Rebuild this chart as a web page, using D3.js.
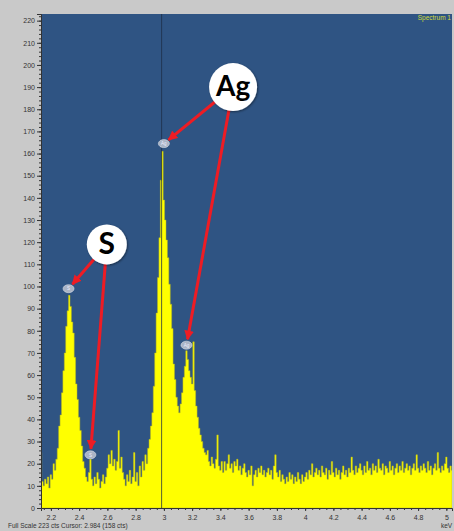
<!DOCTYPE html>
<html><head><meta charset="utf-8">
<script src="https://cdn.jsdelivr.net/npm/d3@7"></script>
<style>
html,body{margin:0;padding:0;background:#c9c9c9;}
svg{display:block;}
</style></head>
<body>
<svg id="chart" width="454" height="531"></svg>
<script>
// ---------- data ----------
const energyStart = 2.13;   // keV of first channel
const energyStep = 0.01;    // keV per channel
const counts = [
25,12,10,13,11,14,9,15,13,20,
17,22,27,37,42,52,62,70,82,89,
96,91,84,79,68,56,49,41,35,28,
21,18,14,12,16,22,13,10,14,11,
16,13,9,12,15,11,14,18,24,20,
26,19,22,17,21,35,18,23,16,13,
10,15,12,17,11,14,25,12,16,10,
19,14,21,17,24,20,27,31,37,43,
55,70,88,104,122,148,161,139,130,121,
113,101,92,81,65,58,50,46,43,47,
52,59,64,71,67,62,59,56,75,53,
46,41,36,33,30,27,25,24,26,21,
19,23,20,18,22,33,19,17,21,16,
21,17,20,24,18,20,16,21,19,22,
17,19,15,18,20,16,14,17,15,19,
10,15,17,14,18,16,19,15,17,14,
16,18,15,17,13,19,24,16,14,17,
12,15,13,11,14,12,16,13,15,11,
14,12,16,13,11,15,12,14,16,13,
17,15,20,14,16,18,15,17,14,19,
16,15,18,13,17,15,21,16,14,18,
15,17,13,16,19,15,17,14,18,16,
23,17,15,19,16,18,20,17,15,19,
16,21,17,18,15,20,17,19,16,22,
18,17,20,15,19,18,16,21,17,19,
15,18,20,16,19,17,21,16,18,20,
17,19,15,18,20,17,24,18,16,19,
17,20,18,16,21,17,19,15,18,20,
17,25,18,16,19,17,20,23,18,16,
19,17
];
const xTickValues = [2.2,2.4,2.6,2.8,3.0,3.2,3.4,3.6,3.8,4.0,4.2,4.4,4.6,4.8,5.0];
const xTickLabels = ["2.2","2.4","2.6","2.8","3","3.2","3.4","3.6","3.8","4","4.2","4.4","4.6","4.8","5"];
const yTickValues = [0,10,20,30,40,50,60,70,80,90,100,110,120,130,140,150,160,170,180,190,200,210,220];
const xDomain = [2.13, 5.04];
const fullScale = 223;
const cursorKeV = 2.984;
// element markers on the peaks: [label, keV, counts]
const markerLabels = ["S","S","Ag","Ag"];
const markerKeV = [2.325, 2.48, 3.0, 3.16];
const markerCounts = [99, 24, 164.5, 73.5];
// callout bubbles: label, centre keV, centre counts
const calloutLabels = ["S","Ag"];
const calloutKeV = [2.596, 3.49];
const calloutCounts = [119, 190];
const footerText = "Full Scale 223 cts Cursor: 2.984  (158 cts)";

// ---------- layout ----------
const L = 41, R = 452, T = 14, B = 508;
const svg = d3.select("#chart");
const x = d3.scaleLinear().domain(xDomain).range([L, R]);
const y = d3.scaleLinear().domain([0, fullScale]).range([B, T]);

svg.append("rect").attr("x",0).attr("y",0).attr("width",454).attr("height",531).attr("fill","#c9c9c9");
svg.append("rect").attr("x",L).attr("y",T).attr("width",R-L).attr("height",B-T).attr("fill","#2f5483");

const defs = svg.append("defs");
defs.append("clipPath").attr("id","plotclip").append("rect")
  .attr("x",L).attr("y",T).attr("width",R-L).attr("height",B-T);
const shadow = defs.append("filter").attr("id","shadow").attr("x","-30%").attr("y","-30%").attr("width","160%").attr("height","160%");
shadow.append("feDropShadow").attr("dx",1).attr("dy",1).attr("stdDeviation",1.2).attr("flood-color","#000").attr("flood-opacity",0.45);
defs.append("marker").attr("id","arrow").attr("viewBox","0 0 10 10").attr("refX",9).attr("refY",5)
  .attr("markerWidth",3.2).attr("markerHeight",3.2).attr("orient","auto-start-reverse")
  .attr("markerUnits","strokeWidth")
  .append("path").attr("d","M0,0 L10,5 L0,10 z").attr("fill","#ee1c24");

// spectrum
const data = counts.map((c,i)=>({e: energyStart + i*energyStep, c}));
const area = d3.area().x(d=>x(d.e)).y0(y(0)).y1(d=>y(d.c)).curve(d3.curveStep);
const g = svg.append("g").attr("clip-path","url(#plotclip)");
g.append("path").datum(data).attr("d",area).attr("fill","#ffff00")
  .attr("stroke","#b8b81e").attr("stroke-width",0.5);

// cursor line
g.append("line").attr("x1",x(cursorKeV)).attr("x2",x(cursorKeV)).attr("y1",T).attr("y2",B)
  .attr("stroke","#1e2c44").attr("stroke-opacity",0.75).attr("stroke-width",1);

// spectrum label
svg.append("text").attr("x",R-1).attr("y",T+6).attr("text-anchor","end")
  .attr("font-family","Liberation Sans, Arial, sans-serif").attr("font-size",6.5)
  .attr("fill","#d2dc3c").text("Spectrum 1");

// axes
const axisFont = "Liberation Sans, Arial, sans-serif";
const xMinor = d3.range(2.15, 5.041, 0.05).map(v=>+v.toFixed(2));
svg.append("g").attr("transform",`translate(0,${B})`)
  .call(d3.axisBottom(x).tickValues(xMinor).tickSize(2).tickFormat(""))
  .call(a=>a.select(".domain").remove())
  .call(a=>a.selectAll("line").attr("stroke","#333"));
svg.append("g").attr("transform",`translate(0,${B})`)
  .call(d3.axisBottom(x).tickValues(xTickValues).tickSize(3).tickPadding(4)
    .tickFormat((d,i)=>xTickLabels[i]))
  .call(a=>a.select(".domain").attr("stroke","#333"))
  .call(a=>a.selectAll("line").attr("stroke","#333"))
  .call(a=>a.selectAll("text").attr("font-family",axisFont).attr("font-size",7).attr("fill","#333"));

const yMinor = d3.range(0, 223, 2);
svg.append("g").attr("transform",`translate(${L},0)`)
  .call(d3.axisLeft(y).tickValues(yMinor).tickSize(2).tickFormat(""))
  .call(a=>a.select(".domain").remove())
  .call(a=>a.selectAll("line").attr("stroke","#333"));
svg.append("g").attr("transform",`translate(${L},0)`)
  .call(d3.axisLeft(y).tickValues(yTickValues).tickSize(4).tickPadding(2))
  .call(a=>a.select(".domain").attr("stroke","#333"))
  .call(a=>a.selectAll("line").attr("stroke","#333"))
  .call(a=>a.selectAll("text").attr("font-family",axisFont).attr("font-size",7).attr("fill","#333"));

// footer
svg.append("text").attr("x",8).attr("y",528).attr("font-family",axisFont).attr("font-size",6.5)
  .attr("fill","#333").text(footerText);
svg.append("text").attr("x",441).attr("y",528).attr("font-family",axisFont).attr("font-size",6.5)
  .attr("fill","#333").text("keV");

// peak markers
markerLabels.forEach((lab,i)=>{
  const mx = x(markerKeV[i]), my = y(markerCounts[i]);
  svg.append("ellipse").attr("cx",mx).attr("cy",my).attr("rx",5.5).attr("ry",4)
    .attr("fill","#aab4c6").attr("stroke","#d8dde6").attr("stroke-width",0.6);
  svg.append("text").attr("x",mx).attr("y",my+1.8).attr("text-anchor","middle")
    .attr("font-family",axisFont).attr("font-size",4.5).attr("fill","#eef").text(lab);
});

// callouts with red arrows
const calloutR = [20, 24];
calloutLabels.forEach((lab,ci)=>{
  const cx = x(calloutKeV[ci]), cy = y(calloutCounts[ci]), r = calloutR[ci];
  markerLabels.forEach((ml,i)=>{
    if (ml !== lab) return;
    const mx = x(markerKeV[i]), my = y(markerCounts[i]);
    const ang = Math.atan2(my-cy, mx-cx);
    const sx = cx + Math.cos(ang)*(r-4), sy = cy + Math.sin(ang)*(r-4);
    const d = Math.hypot(mx-sx,my-sy);
    const ex = sx + (mx-sx)*(d-6)/d, ey = sy + (my-sy)*(d-6)/d;
    svg.append("line").attr("x1",sx).attr("y1",sy).attr("x2",ex).attr("y2",ey)
      .attr("stroke","#ee1c24").attr("stroke-width",3).attr("marker-end","url(#arrow)");
  });
  svg.append("circle").attr("cx",cx).attr("cy",cy).attr("r",r)
    .attr("fill","#ffffff").attr("filter","url(#shadow)");
  svg.append("text").attr("x",cx).attr("y",cy+ (lab==="S"?10:9)).attr("text-anchor","middle")
    .attr("font-family","Lato, 'Open Sans', sans-serif").attr("font-weight","bold")
    .attr("font-size", lab==="S"?30:28).attr("fill","#000").text(lab);
});
</script>
</body></html>
